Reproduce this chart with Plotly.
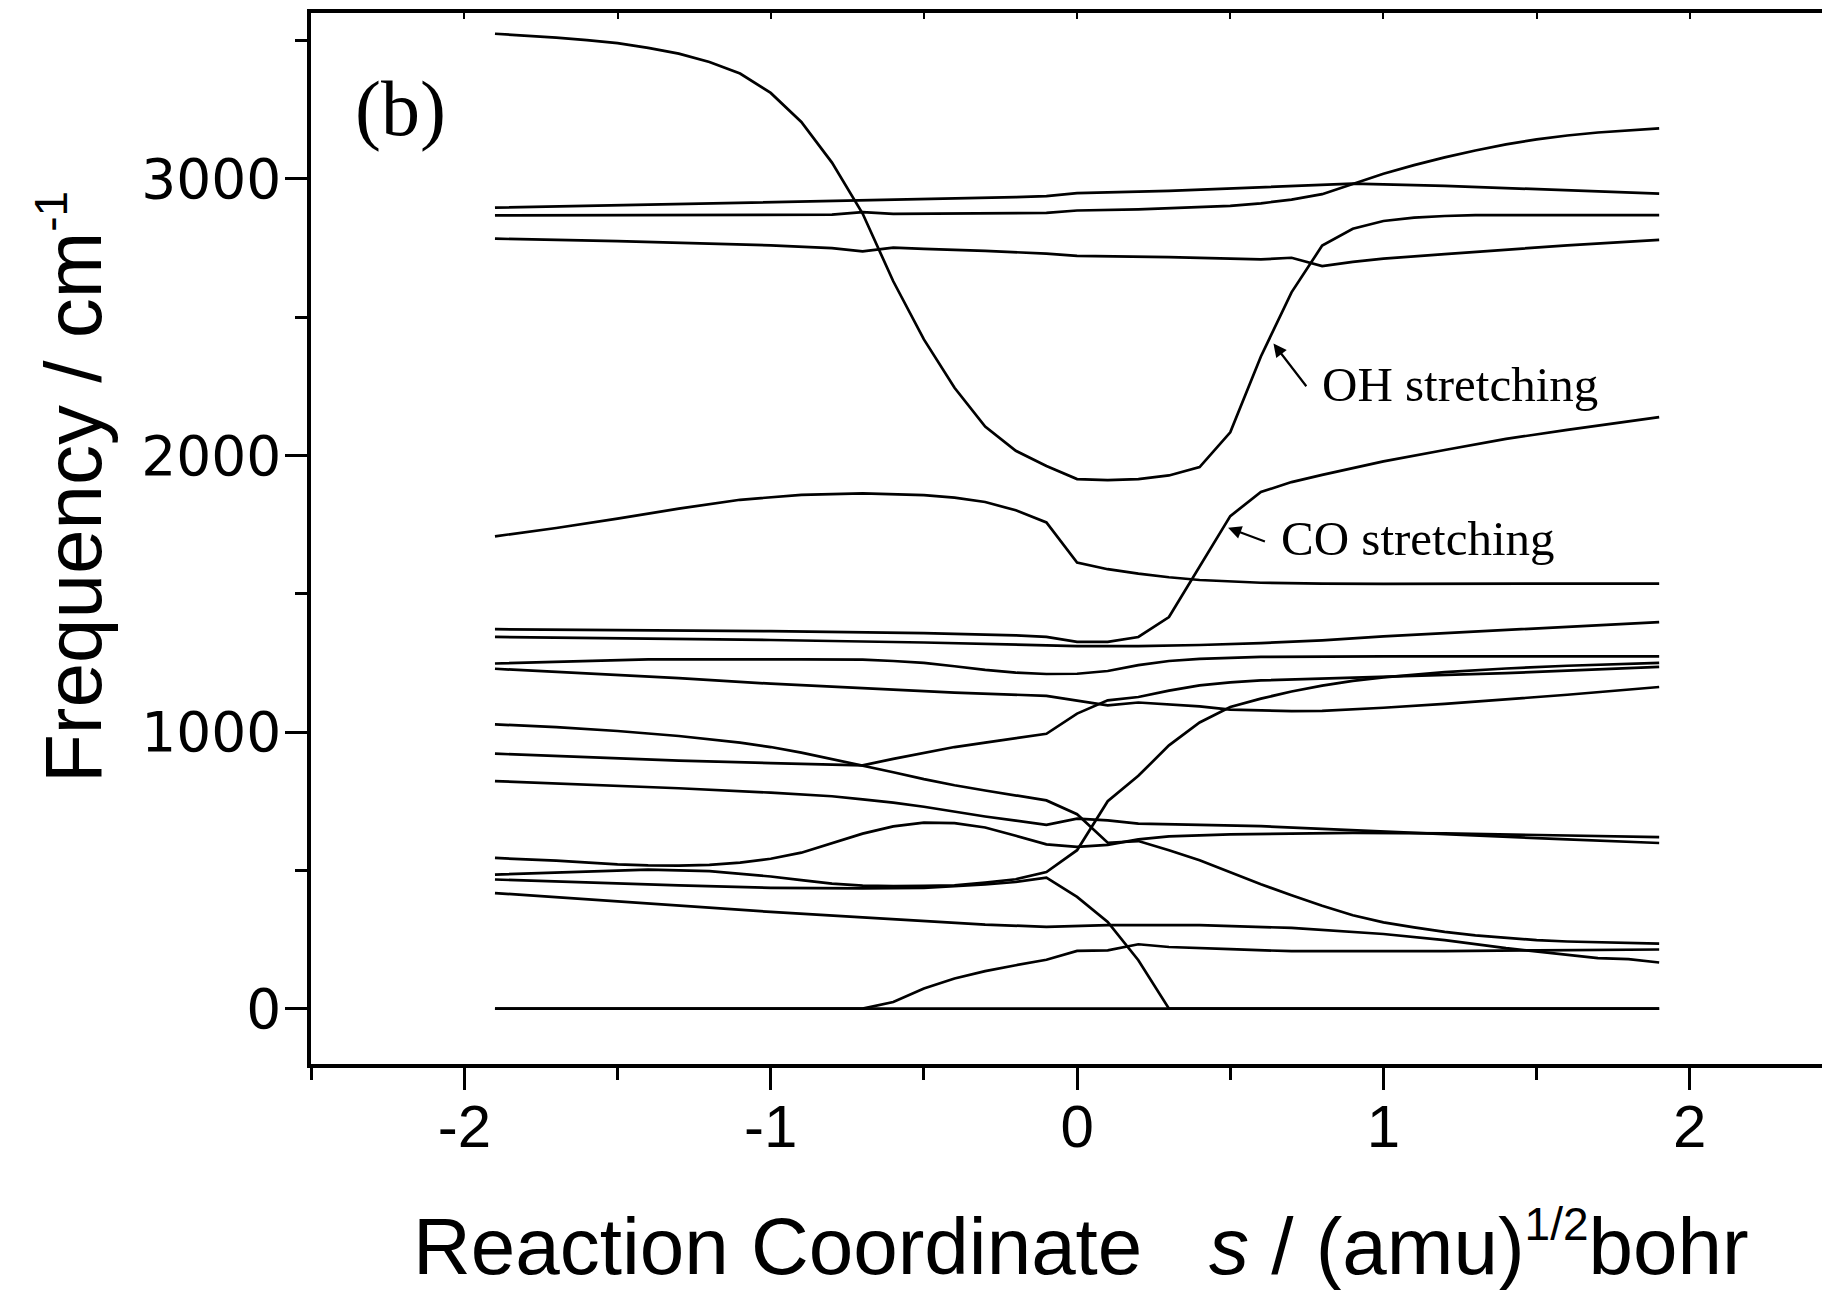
import plotly.graph_objects as go

# ---------------- data (s in (amu)^1/2 bohr, frequency in cm^-1) ----------------
oh_s = [-1.9,-1.8,-1.7,-1.6,-1.5,-1.4,-1.3,-1.2,-1.1,-1.0,-0.9,-0.8,-0.7,-0.6,-0.5,-0.4,-0.3,-0.2,-0.1,0.0,
        0.1,0.2,0.3,0.4,0.5,0.6,0.7,0.8,0.9,1.0,1.1,1.2,1.3,1.9]
oh_f = [3525,3519,3511,3502,3491,3474,3453,3423,3381,3311,3206,3059,2875,2630,2420,2245,2105,2017,1962,1915,
        1911,1915,1928,1958,2084,2358,2590,2759,2820,2848,2860,2866,2869,2869]

ch_a_s = [-1.9,-1.5,-1.0,-0.5,-0.2,-0.1,0.0,0.3,0.5,0.7,0.9,1.2,1.5,1.9]
ch_a_f = [2896,2905,2915,2926,2934,2938,2949,2957,2966,2975,2983,2975,2963,2947]

ch_b_s = [-1.9,-1.0,-0.8,-0.7,-0.6,-0.1,0.0,0.2,0.4,0.5,0.6,0.7,0.8,0.9,1.0,1.1,1.2,1.3,1.4,1.5,1.6,1.7,1.8,1.9]
ch_b_f = [2868,2870,2871,2880,2874,2877,2886,2890,2897,2903,2912,2925,2945,2983,3019,3050,3078,3103,3125,3143,3157,3168,3176,3183]

ch_c_s = [-1.9,-1.5,-1.0,-0.8,-0.7,-0.6,-0.5,-0.3,-0.1,0.0,0.3,0.6,0.7,0.8,0.9,1.0,1.2,1.4,1.6,1.9]
ch_c_f = [2784,2775,2760,2750,2738,2752,2747,2740,2730,2722,2717,2709,2715,2685,2700,2712,2728,2745,2760,2780]

m_e_s = [-1.9,-1.7,-1.5,-1.3,-1.1,-0.9,-0.7,-0.5,-0.4,-0.3,-0.2,-0.1,0.0,0.1,0.2,0.3,0.4,0.5,0.6,0.8,1.0,1.9]
m_e_f = [1708,1738,1772,1808,1840,1858,1863,1857,1848,1832,1802,1758,1613,1589,1573,1560,1550,1545,1540,1537,1536,1537]

co_s = [-1.9,-1.5,-1.0,-0.5,-0.3,-0.2,-0.1,0.0,0.1,0.2,0.3,0.4,0.5,0.6,0.7,0.8,0.9,1.0,1.2,1.4,1.6,1.9]
co_f = [1372,1370,1365,1358,1354,1350,1344,1326,1326,1344,1416,1598,1781,1868,1904,1930,1955,1979,2020,2060,2093,2139]

m_f2_s = [-1.9,-1.5,-1.0,-0.5,0.0,0.2,0.4,0.6,0.8,1.0,1.2,1.4,1.6,1.9]
m_f2_f = [1344,1340,1333,1324,1311,1311,1315,1322,1332,1346,1358,1370,1382,1398]

m_h_s = [-1.9,-1.6,-1.4,-0.9,-0.7,-0.6,-0.5,-0.4,-0.3,-0.2,-0.1,0.0,0.1,0.2,0.3,0.4,0.6,1.0,1.9]
m_h_f = [1248,1258,1263,1263,1262,1257,1250,1238,1225,1215,1210,1211,1221,1242,1257,1265,1272,1274,1274]

m_g_s = [-1.9,-1.6,-1.3,-1.0,-0.7,-0.4,-0.1,0.0,0.1,0.2,0.3,0.4,0.5,0.7,0.8,1.0,1.2,1.4,1.6,1.9]
m_g_f = [1229,1212,1195,1175,1160,1143,1131,1113,1097,1107,1100,1093,1081,1076,1077,1088,1102,1118,1135,1163]

m_b_s = [-1.9,-1.6,-1.3,-1.0,-0.8,-0.7,-0.6,-0.5,-0.4,-0.3,-0.2,-0.1,0.0,0.1,0.2,0.3,0.4,0.5,0.6,0.8,1.0,1.2,1.4,1.6,1.9]
m_b_f = [922,910,897,888,882,880,903,925,946,962,977,994,1067,1115,1127,1150,1169,1180,1187,1193,1199,1205,1213,1222,1236]

m_e2_s = [-1.9,-1.6,-1.4,-1.2,-1.0,-0.9,-0.8,-0.7,-0.6,-0.5,-0.4,-0.3,-0.2,-0.1,0.0,0.1,0.2,0.3,0.4,0.5,0.6,0.7,0.8,0.9,1.0,1.2,1.4,1.6,1.9]
m_e2_f = [485,497,503,497,478,465,452,445,443,444,446,456,468,494,573,750,842,952,1035,1091,1121,1147,1168,1185,1198,1217,1230,1240,1250]

m_c_s = [-1.9,-1.7,-1.5,-1.4,-1.3,-1.2,-1.1,-1.0,-0.9,-0.8,-0.7,-0.6,-0.5,-0.4,-0.3,-0.2,-0.1,0.0,0.1,0.2,0.3,0.5,0.7,0.9,1.2,1.5,1.9]
m_c_f = [545,535,522,518,517,520,528,542,564,598,633,659,673,671,655,625,594,585,592,612,623,630,634,636,634,627,620]

m_d_s = [-1.9,-1.6,-1.3,-1.0,-0.8,-0.7,-0.6,-0.5,-0.4,-0.3,-0.2,-0.1,0.0,0.1,0.2,0.4,0.6,0.8,1.0,1.2,1.4,1.6,1.9]
m_d_f = [823,810,797,781,768,757,745,730,712,695,680,665,687,681,669,664,660,650,640,630,620,612,599]

m_l1_s = [-1.9,-1.7,-1.5,-1.3,-1.1,-1.0,-0.9,-0.8,-0.7,-0.6,-0.5,-0.4,-0.3,-0.2,-0.1,0.0,0.1,0.2,0.3,0.4,0.5,0.6,
          0.7,0.8,0.9,1.0,1.1,1.2,1.3,1.4,1.5,1.6,1.9]
m_l1_f = [1028,1018,1004,986,962,946,926,903,880,855,830,808,789,771,753,703,600,606,573,537,494,450,
          410,372,338,312,294,278,265,256,248,243,235]

m_z2_s = [-1.9,-1.6,-1.3,-1.0,-0.7,-0.5,-0.3,-0.2,-0.1,0.0,0.1,0.2,0.3,1.9]
m_z2_f = [467,456,446,437,435,437,449,458,474,404,314,175,0,0]

m_gl_s = [-1.9,-1.6,-1.3,-1.0,-0.7,-0.5,-0.3,-0.1,0.1,0.4,0.7,1.0,1.2,1.4,1.5,1.6,1.7,1.8,1.9]
m_gl_f = [418,395,373,350,330,318,304,296,302,302,292,270,248,219,207,193,183,179,167]

m_z1_s = [-1.9,-0.7,-0.6,-0.5,-0.4,-0.3,-0.2,-0.1,0.0,0.1,0.2,0.3,0.5,0.7,1.0,1.2,1.5,1.9]
m_z1_f = [0,0,24,73,109,136,157,177,209,211,233,223,215,208,208,208,211,214]

m_z3_s = [-1.9,1.9]
m_z3_f = [0,0]

curves = [(oh_s, oh_f), (ch_a_s, ch_a_f), (ch_b_s, ch_b_f), (ch_c_s, ch_c_f), (m_e_s, m_e_f),
          (co_s, co_f), (m_f2_s, m_f2_f), (m_h_s, m_h_f), (m_g_s, m_g_f), (m_b_s, m_b_f),
          (m_e2_s, m_e2_f), (m_c_s, m_c_f), (m_d_s, m_d_f), (m_l1_s, m_l1_f), (m_z2_s, m_z2_f),
          (m_gl_s, m_gl_f), (m_z1_s, m_z1_f), (m_z3_s, m_z3_f)]

x_tick_vals = [-2, -1, 0, 1, 2]
x_tick_text = ["-2", "-1", "0", "1", "2"]
x_minor_vals = [-2.5, -1.5, -0.5, 0.5, 1.5]
top_tick_vals = [-2.5, -2, -1.5, -1, -0.5, 0, 0.5, 1, 1.5, 2]
y_tick_vals = [0, 1000, 2000, 3000]
y_minor_vals = [500, 1500, 2500, 3500]

# ---------------- figure ----------------
fig = go.Figure()
for s, f in curves:
    fig.add_trace(go.Scatter(x=s, y=f, mode="lines",
                             line=dict(color="black", width=2.7),
                             showlegend=False, hoverinfo="skip"))
# helper trace for the top axis
fig.add_trace(go.Scatter(x=[0], y=[None], xaxis="x2", mode="lines", showlegend=False, hoverinfo="skip"))

fig.update_layout(
    width=1822, height=1282, autosize=False,
    margin=dict(l=302.5, r=0, t=4.6, b=226.3),
    paper_bgcolor="white", plot_bgcolor="white",
    xaxis=dict(range=[-2.5005, 2.4576], showline=True, linecolor="black", linewidth=3.5,
               ticks="outside", ticklen=22, tickwidth=3, tickcolor="black",
               tickmode="array", tickvals=x_tick_vals, ticktext=x_tick_text,
               minor=dict(tickmode="array", tickvals=x_minor_vals, ticks="outside",
                          ticklen=12, tickwidth=3, tickcolor="black", showgrid=False),
               showgrid=False, zeroline=False,
               tickfont=dict(family="Liberation Sans, Arial", size=60, color="black"),
               ticklabelstandoff=-15),
    xaxis2=dict(overlaying="x", matches="x", side="top", anchor="y",
                showline=True, linecolor="black", linewidth=3.5,
                ticks="inside", ticklen=6, tickwidth=2, tickcolor="black",
                tickmode="array", tickvals=top_tick_vals, showticklabels=False,
                showgrid=False, zeroline=False),
    yaxis=dict(range=[-200, 3600], showline=True, linecolor="black", linewidth=3.5,
               ticks="outside", ticklen=22, tickwidth=3, tickcolor="black",
               tickmode="array", tickvals=y_tick_vals,
               minor=dict(tickmode="array", tickvals=y_minor_vals, ticks="outside",
                          ticklen=12, tickwidth=3, tickcolor="black", showgrid=False),
               showgrid=False, zeroline=False,
               tickfont=dict(family="DejaVu Sans", size=55, color="black"),
               ticklabelstandoff=-7),
)

serif = "Liberation Serif, Times New Roman"
sans = "Liberation Sans, Arial"

fig.add_annotation(x=-2.209, y=3255, xref="x", yref="y", text="(b)", showarrow=False,
                   font=dict(family=serif, size=78, color="black"))

fig.add_annotation(x=0.641, y=2405, ax=0.752, ay=2245, xref="x", yref="y", axref="x", ayref="y",
                   text="", showarrow=True, arrowhead=2, arrowsize=1.2, arrowwidth=2.2, arrowcolor="black")
fig.add_annotation(x=0.793, y=2257, xref="x", yref="y", text="OH stretching", showarrow=False,
                   xanchor="left", yanchor="middle", font=dict(family=serif, size=49, color="black"))

fig.add_annotation(x=0.493, y=1739, ax=0.618, ay=1687, xref="x", yref="y", axref="x", ayref="y",
                   text="", showarrow=True, arrowhead=2, arrowsize=1.2, arrowwidth=2.2, arrowcolor="black")
fig.add_annotation(x=0.66, y=1700, xref="x", yref="y", text="CO stretching", showarrow=False,
                   xanchor="left", yanchor="middle", font=dict(family=serif, size=49, color="black"))

fig.add_annotation(x=0.507, y=-0.172, xref="paper", yref="paper",
                   text="Reaction Coordinate\u00a0\u00a0\u00a0<i>s</i> / (amu)"
                        "<sup><span style='font-size:46px'>1/2</span></sup>bohr",
                   showarrow=False, xanchor="center", yanchor="middle",
                   font=dict(family=sans, size=80, color="black"))

fig.add_annotation(x=-0.158, y=0.549, xref="paper", yref="paper",
                   text="Frequency / cm<sup><span style='font-size:46px'>-1</span></sup>", textangle=-90,
                   showarrow=False, xanchor="center", yanchor="middle",
                   font=dict(family=sans, size=80, color="black"))

fig.write_html("out.html")
